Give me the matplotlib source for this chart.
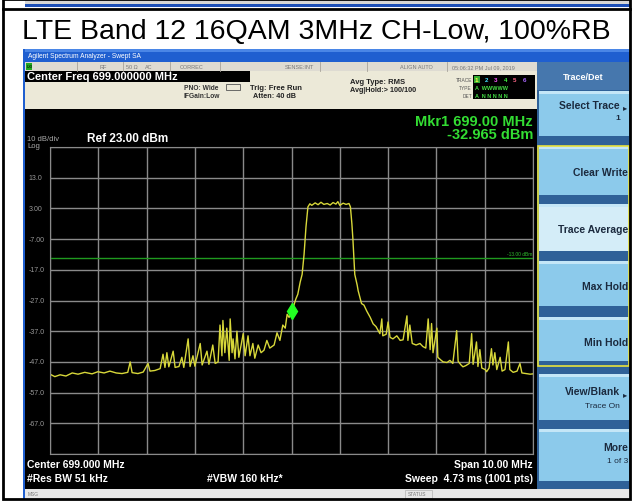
import numpy as np
import matplotlib.pyplot as plt
from matplotlib.patches import Rectangle
from matplotlib.transforms import blended_transform_factory

plt.rcParams['font.family'] = ['Liberation Sans', 'DejaVu Sans']

# trace (MHz / dBm)
freq = [694.00, 694.10, 694.21, 694.33, 694.46, 694.58, 694.72, 694.87, 694.99, 695.12,
        695.24, 695.37, 695.49, 695.61, 695.66, 695.70, 695.82, 695.93, 696.03, 696.07,
        696.17, 696.28, 696.34, 696.38, 696.42, 696.46, 696.55, 696.59, 696.67, 696.73,
        696.77, 696.86, 696.90, 696.96, 697.00, 697.11, 697.15, 697.25, 697.29, 697.37,
        697.42, 697.48, 697.52, 697.56, 697.58, 697.62, 697.66, 697.71, 697.73, 697.77,
        697.79, 697.83, 697.87, 697.91, 698.00, 698.04, 698.10, 698.14, 698.20, 698.24,
        698.31, 698.37, 698.43, 698.49, 698.55, 698.64, 698.70, 698.76, 698.82, 698.87,
        698.91, 698.95, 699.00, 699.05, 699.09, 699.13, 699.18, 699.22, 699.26, 699.30,
        699.34, 699.38, 699.42, 699.49, 699.55, 699.61, 699.67, 699.74, 699.80, 699.86,
        699.92, 699.96, 700.00, 700.07, 700.13, 700.19, 700.22, 700.25, 700.27, 700.31,
        700.36, 700.38, 700.45, 700.50, 700.56, 700.63, 700.69, 700.75, 700.83, 700.87,
        700.89, 700.96, 701.00, 701.04, 701.10, 701.18, 701.25, 701.31, 701.39, 701.41,
        701.45, 701.50, 701.58, 701.66, 701.72, 701.78, 701.83, 701.87, 701.90, 701.93,
        702.01, 702.03, 702.10, 702.14, 702.22, 702.28, 702.34, 702.42, 702.45, 702.51,
        702.55, 702.61, 702.68, 702.73, 702.76, 702.83, 702.86, 702.90, 702.94, 703.01,
        703.04, 703.09, 703.14, 703.17, 703.21, 703.25, 703.32, 703.36, 703.42, 703.49,
        703.52, 703.59, 703.67, 703.73, 703.77, 703.86, 703.94, 704.00]
level = [-51.0, -51.8, -51.2, -51.6, -50.6, -51.0, -50.4, -50.9, -50.2, -50.6,
         -50.0, -50.6, -50.8, -50.4, -47.0, -50.5, -50.8, -50.3, -47.5, -50.0,
         -49.8, -49.2, -44.5, -48.8, -44.0, -48.6, -43.5, -48.8, -48.5, -45.5,
         -48.8, -39.5, -48.5, -45.0, -48.4, -41.0, -48.0, -43.5, -47.8, -41.5,
         -47.5, -47.0, -35.0, -45.0, -33.5, -44.0, -36.0, -46.5, -33.0, -44.0,
         -39.5, -46.0, -37.0, -45.5, -37.8, -45.0, -38.5, -45.0, -41.0, -45.8,
         -41.5, -44.0, -43.2, -40.0, -42.5, -41.5, -37.5, -40.0, -35.0, -36.0,
         -31.5, -32.5, -30.5, -28.5, -26.5, -25.0, -21.0, -18.5, -12.0, -3.0,
         3.5, 4.5, 4.0, 4.8, 4.2, 5.0, 4.3, 4.6, 4.1, 4.9,
         4.4, 5.2, 4.0, 4.7, 4.3, 4.6, 3.5, -2.0, -6.7, -18.5,
         -22.0, -23.8, -28.0, -28.5, -30.5, -32.5, -34.6, -35.5, -37.8, -33.0,
         -38.5, -38.0, -34.0, -39.0, -39.5, -38.5, -40.0, -39.8, -32.0, -40.0,
         -35.0, -41.0, -41.5, -41.0, -42.0, -42.5, -33.0, -43.0, -34.5, -44.0,
         -36.0, -45.5, -46.5, -47.0, -47.2, -46.5, -47.5, -36.8, -46.8, -48.0,
         -48.6, -48.2, -47.5, -37.8, -47.8, -40.5, -48.5, -43.0, -49.0, -49.5,
         -50.2, -49.0, -42.7, -48.0, -44.0, -49.5, -45.5, -50.0, -49.5, -40.5,
         -49.5, -50.4, -50.0, -47.5, -50.6, -50.8, -51.0, -50.9]

center = 699.0
span = 10.0
ref_level = 23.0
db_div = 10
display_line = -13.0
mkr_freq = 699.0
ytick_vals = [13, 3, -7, -17, -27, -37, -47, -57, -67]
ytick_labels = ['13.0', '3.00', '-7.00', '-17.0', '-27.0', '-37.0', '-47.0', '-57.0', '-67.0']

W, H = 632, 502
fig = plt.figure(figsize=(W / 100, H / 100), dpi=100)
fig.patch.set_facecolor('white')

bg = fig.add_axes([0, 0, 1, 1])
bg.set_xlim(0, W)
bg.set_ylim(H, 0)
bg.axis('off')


def box(x0, y0, x1, y1, fc, ec='none', lw=0, z=1):
    bg.add_patch(Rectangle((x0, y0), x1 - x0, y1 - y0, facecolor=fc,
                           edgecolor=ec, linewidth=lw, zorder=z))


def txt(x, y, s, size=6, color='black', ha='left', weight='normal', z=5):
    bg.text(x, y, s, fontsize=size, color=color, ha=ha, va='center',
            fontweight=weight, zorder=z)


# strip of the previous picture at the very top + frame
box(25, 0, 630, 5, '#d6d6d6')
box(25, 5, 630, 8, '#1c4fb8')
box(3, 0, 630, 500, 'none', ec='black', lw=2, z=10)
bg.plot([3, 630], [10, 10], color='black', lw=2, zorder=10)

txt(316, 32, 'LTE Band 12 16QAM 3MHz CH-Low, 100%RB', size=20.5, ha='center')

# window title bar
box(23, 50, 630, 63, '#1f5fd0')
box(23, 50, 630, 53, '#4a86e6')
txt(28, 57, 'Agilent Spectrum Analyzer - Swept SA', size=4.8, color='white')
box(23, 50, 25, 500, '#1f5fd0', z=6)

# status row
box(25, 63, 537, 72, '#dedbd2')
for xd in [77, 123, 170, 220, 320, 367, 447]:
    bg.plot([xd, xd], [63, 72], color='#a8a49a', lw=0.6)
box(26, 64, 32, 71, '#22aa22')
txt(26.5, 67.5, 'LXI', size=3, color='black')
for xs, s in [(100, 'RF'), (126, '50 Ω'), (145, 'AC'), (180, 'CORREC'),
              (285, 'SENSE:INT'), (400, 'ALIGN AUTO'), (452, '05:06:32 PM Jul 09, 2019')]:
    txt(xs, 67.5, s, size=4, color='#777777')

# header
box(25, 72, 537, 110, '#ece9d8')
box(25, 72, 250, 83, 'black')
txt(27, 77.5, 'Center Freq 699.000000 MHz', size=8, color='white', weight='bold')
txt(184, 88, 'PNO: Wide', size=4.8, weight='bold', color='#333333')
txt(184, 96, 'IFGain:Low', size=4.8, weight='bold', color='#333333')
box(226, 85, 240, 91, 'none', ec='#555555', lw=0.6)
txt(250, 88, 'Trig: Free Run', size=5.5, weight='bold', color='#222222')
txt(253, 97, 'Atten: 40 dB', size=5.2, weight='bold', color='#222222')
txt(350, 83, 'Avg Type: RMS', size=5.5, weight='bold', color='#222222')
txt(350, 91, 'Avg|Hold:> 100/100', size=5.2, weight='bold', color='#222222')
txt(472, 80, 'TRACE', size=3.5, ha='right', color='#555555')
txt(472, 88, 'TYPE', size=3.5, ha='right', color='#555555')
txt(472, 96, 'DET', size=3.5, ha='right', color='#555555')
box(473, 76, 535, 100, 'black')
box(474, 77, 480, 84, '#33aa33')
for i, c in enumerate(['#ffff44', '#44ddff', '#ff55ff', '#44ff44', '#ff6688', '#aa66ff']):
    txt(475 + i * 9.5, 80.5, str(i + 1), size=4.5, color=c, weight='bold')
txt(475, 88.5, 'A  WWWWW', size=4, color='#44dd44', weight='bold')
txt(475, 96, 'A  N N N N N', size=4, color='#44dd44', weight='bold')

# display area
box(25, 110, 537, 490, 'black')
txt(27, 140, '10 dB/div', size=5.5, color='#aaaaaa')
txt(27, 147, 'Log', size=5.5, color='#aaaaaa')
txt(87, 139, 'Ref 23.00 dBm', size=8.5, color='white', weight='bold')
txt(533, 122, 'Mkr1 699.00 MHz', size=10.5, color='#33dd33', weight='bold', ha='right')
txt(533, 135, '-32.965 dBm', size=10.5, color='#33dd33', weight='bold', ha='right')
txt(27, 465, 'Center 699.000 MHz', size=7.5, color='white', weight='bold')
txt(27, 479, '#Res BW 51 kHz', size=7.5, color='white', weight='bold')
txt(207, 479, '#VBW 160 kHz*', size=7.5, color='white', weight='bold')
txt(533, 465, 'Span 10.00 MHz', size=7.5, color='white', weight='bold', ha='right')
txt(533, 479, 'Sweep  4.73 ms (1001 pts)', size=7.5, color='white', weight='bold', ha='right')

# bottom status bar
box(25, 490, 630, 500, '#e6e6e6')
box(405, 491, 432, 499, 'none', ec='#bbbbbb', lw=0.6)
txt(28, 495, 'MSG', size=3.5, color='#777777')
txt(408, 495, 'STATUS', size=3.5, color='#777777')

# softkey panel
box(537, 63, 630, 490, '#2f6198')
box(537, 63, 630, 91, '#4677ad')
txt(583, 77, 'Trace/Det', size=6.5, color='white', weight='bold', ha='center')
keys = [(92, 137, '#8ccaeb'), (147, 196, '#8ccaeb'), (205, 252, '#d4edf8'),
        (262, 307, '#8ccaeb'), (318, 362, '#8ccaeb'), (375, 421, '#8ccaeb'),
        (430, 482, '#8ccaeb')]
for y0, y1, c in keys:
    box(539, y0, 629, y1, c)
    box(539, y0, 629, y0 + 3, '#c4e6f7')
box(538, 147, 629, 367, 'none', ec='#e8e23c', lw=1.2, z=4)
navy = '#1b2a3e'
txt(620, 106, 'Select Trace', size=7.5, color=navy, weight='bold', ha='right')
txt(627, 109, '▸', size=6, color=navy, ha='right')
txt(620, 119, '1', size=6, color=navy, weight='bold', ha='right')
txt(628, 173, 'Clear Write', size=7.5, color=navy, weight='bold', ha='right')
txt(628, 230, 'Trace Average', size=7.5, color=navy, weight='bold', ha='right')
txt(628, 287, 'Max Hold', size=7.5, color=navy, weight='bold', ha='right')
txt(628, 343, 'Min Hold', size=7.5, color=navy, weight='bold', ha='right')
txt(620, 392, 'View/Blank', size=7.5, color=navy, weight='bold', ha='right')
txt(627, 396, '▸', size=6, color=navy, ha='right')
txt(620, 407, 'Trace On', size=6, color=navy, ha='right')
txt(628, 448, 'More', size=7.5, color=navy, weight='bold', ha='right')
txt(628, 462, '1 of 3', size=6, color=navy, ha='right')

# graticule and trace
ax = fig.add_axes([50 / W, 1 - 455 / H, 483 / W, 307 / H])
ax.set_facecolor('black')
ax.set_xlim(center - span / 2, center + span / 2)
ax.set_ylim(ref_level - 10 * db_div, ref_level)
ax.set_xticks(np.arange(center - span / 2, center + span / 2 + 0.1, span / 10))
ax.set_yticks(np.arange(ref_level - 10 * db_div, ref_level + 1, db_div))
ax.tick_params(length=0, labelbottom=False, labelleft=False)
ax.grid(color='#8a8a8a', lw=1)
for s in ax.spines.values():
    s.set_color('#8a8a8a')

tr = blended_transform_factory(ax.transAxes, ax.transData)
for v, lab in zip(ytick_vals, ytick_labels):
    ax.text(-0.045, v, lab, transform=tr, fontsize=5, color='#999999',
            ha='left', va='center', clip_on=False)

ax.axhline(display_line, color='#1f9a1f', lw=1)
ax.text(0.998, display_line + 0.6, '-13.00 dBm', transform=tr, fontsize=3.5,
        color='#2fbf2f', ha='right', va='bottom')
ax.plot(freq, level, color='#d8d83a', lw=1)
mk = np.interp(mkr_freq, freq, level)
ax.plot(mkr_freq, mk, 'd', color='#22ff22', ms=8)

fig.savefig('out.png', dpi=100)
